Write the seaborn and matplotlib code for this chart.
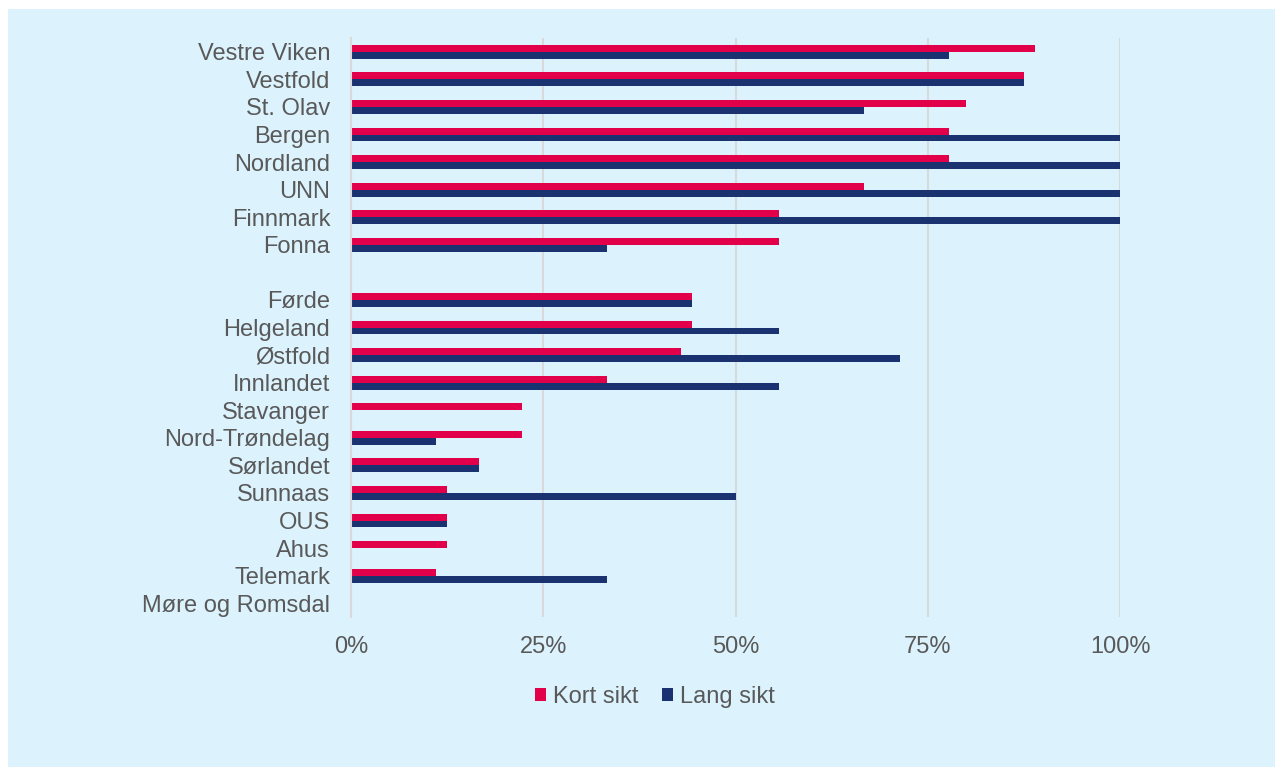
import numpy as np
import pandas as pd
import matplotlib
matplotlib.use("Agg")
import matplotlib.pyplot as plt
from matplotlib.patches import Rectangle, Patch
from matplotlib.ticker import FuncFormatter
import seaborn as sns

# ---- data (top to bottom) ----
regions = ["Vestre Viken", "Vestfold", "St. Olav", "Bergen", "Nordland", "UNN",
           "Finnmark", "Fonna",
           "Førde", "Helgeland", "Østfold", "Innlandet", "Stavanger",
           "Nord-Trøndelag", "Sørlandet", "Sunnaas", "OUS", "Ahus", "Telemark",
           "Møre og Romsdal"]
kort_sikt = [88.9, 87.5, 80.0, 77.8, 77.8, 66.7, 55.6, 55.6,
             44.4, 44.4, 42.9, 33.3, 22.2, 22.2, 16.7, 12.5, 12.5, 12.5, 11.1, 0.0]
lang_sikt = [77.8, 87.5, 66.7, 100.0, 100.0, 100.0, 100.0, 33.3,
             44.4, 55.6, 71.4, 55.6, 0.0, 11.1, 16.7, 50.0, 12.5, 0.0, 33.3, 0.0]
series_names = ["Kort sikt", "Lang sikt"]
x_ticks = [0, 25, 50, 75, 100]
n_upper = 8  # first group, followed by a blank row

colors = {"Kort sikt": "#E2004A", "Lang sikt": "#1A3370"}
text_color = "#595959"
panel_color = "#DCF3FD"
fs = 17

df = pd.DataFrame({
    "Region": regions * 2,
    "Verdi": kort_sikt + lang_sikt,
    "Serie": [series_names[0]] * len(regions) + [series_names[1]] * len(regions),
})
order = regions[:n_upper] + [" "] + regions[n_upper:]

sns.set_theme(style="white")
plt.rcParams["font.family"] = ["Liberation Sans", "DejaVu Sans"]

fig = plt.figure(figsize=(12.82, 7.67), dpi=100)
fig.patch.set_facecolor("white")
fig.patches.append(Rectangle((8 / 1282, 0), (1275 - 8) / 1282, 1 - 9 / 767,
                             transform=fig.transFigure, facecolor=panel_color,
                             edgecolor="none", zorder=-10))

ax = fig.add_axes([351 / 1282, 1 - 617 / 767, (1120 - 351) / 1282, (617 - 38) / 767])
ax.set_facecolor(panel_color)

sns.barplot(data=df, y="Region", x="Verdi", hue="Serie", order=order,
            hue_order=series_names, palette=colors, orient="h",
            width=0.5, errorbar=None, linewidth=0, saturation=1, ax=ax)

ax.set_xlim(0, 100)
ax.set_ylim(len(order) - 0.5, -0.5)
ax.set_xticks(x_ticks)
ax.xaxis.set_major_formatter(FuncFormatter(lambda v, p: f"{v:.0f}%"))
ax.grid(axis="x", color="#D9D9D9", linewidth=1.5)
ax.grid(axis="y", visible=False)
ax.set_axisbelow(True)
for s in ["top", "right", "bottom"]:
    ax.spines[s].set_visible(False)
ax.spines["left"].set_color("#D9D9D9")
ax.spines["left"].set_linewidth(1.5)
ax.set_xlabel("")
ax.set_ylabel("")
ax.tick_params(axis="y", length=0, pad=15, labelsize=fs, labelcolor=text_color)
ax.tick_params(axis="x", length=0, pad=14, labelsize=fs, labelcolor=text_color)

if ax.legend_ is not None:
    ax.legend_.remove()
handles = [Patch(facecolor=colors[n], edgecolor="none") for n in series_names]
fig.legend(handles, series_names, loc="center", bbox_to_anchor=(655 / 1282, 1 - 697 / 767),
           ncol=2, frameon=False, fontsize=fs, labelcolor=text_color,
           handlelength=0.45, handleheight=0.45, handletextpad=0.3, columnspacing=1.0)

fig.savefig("out.png", dpi=100)
